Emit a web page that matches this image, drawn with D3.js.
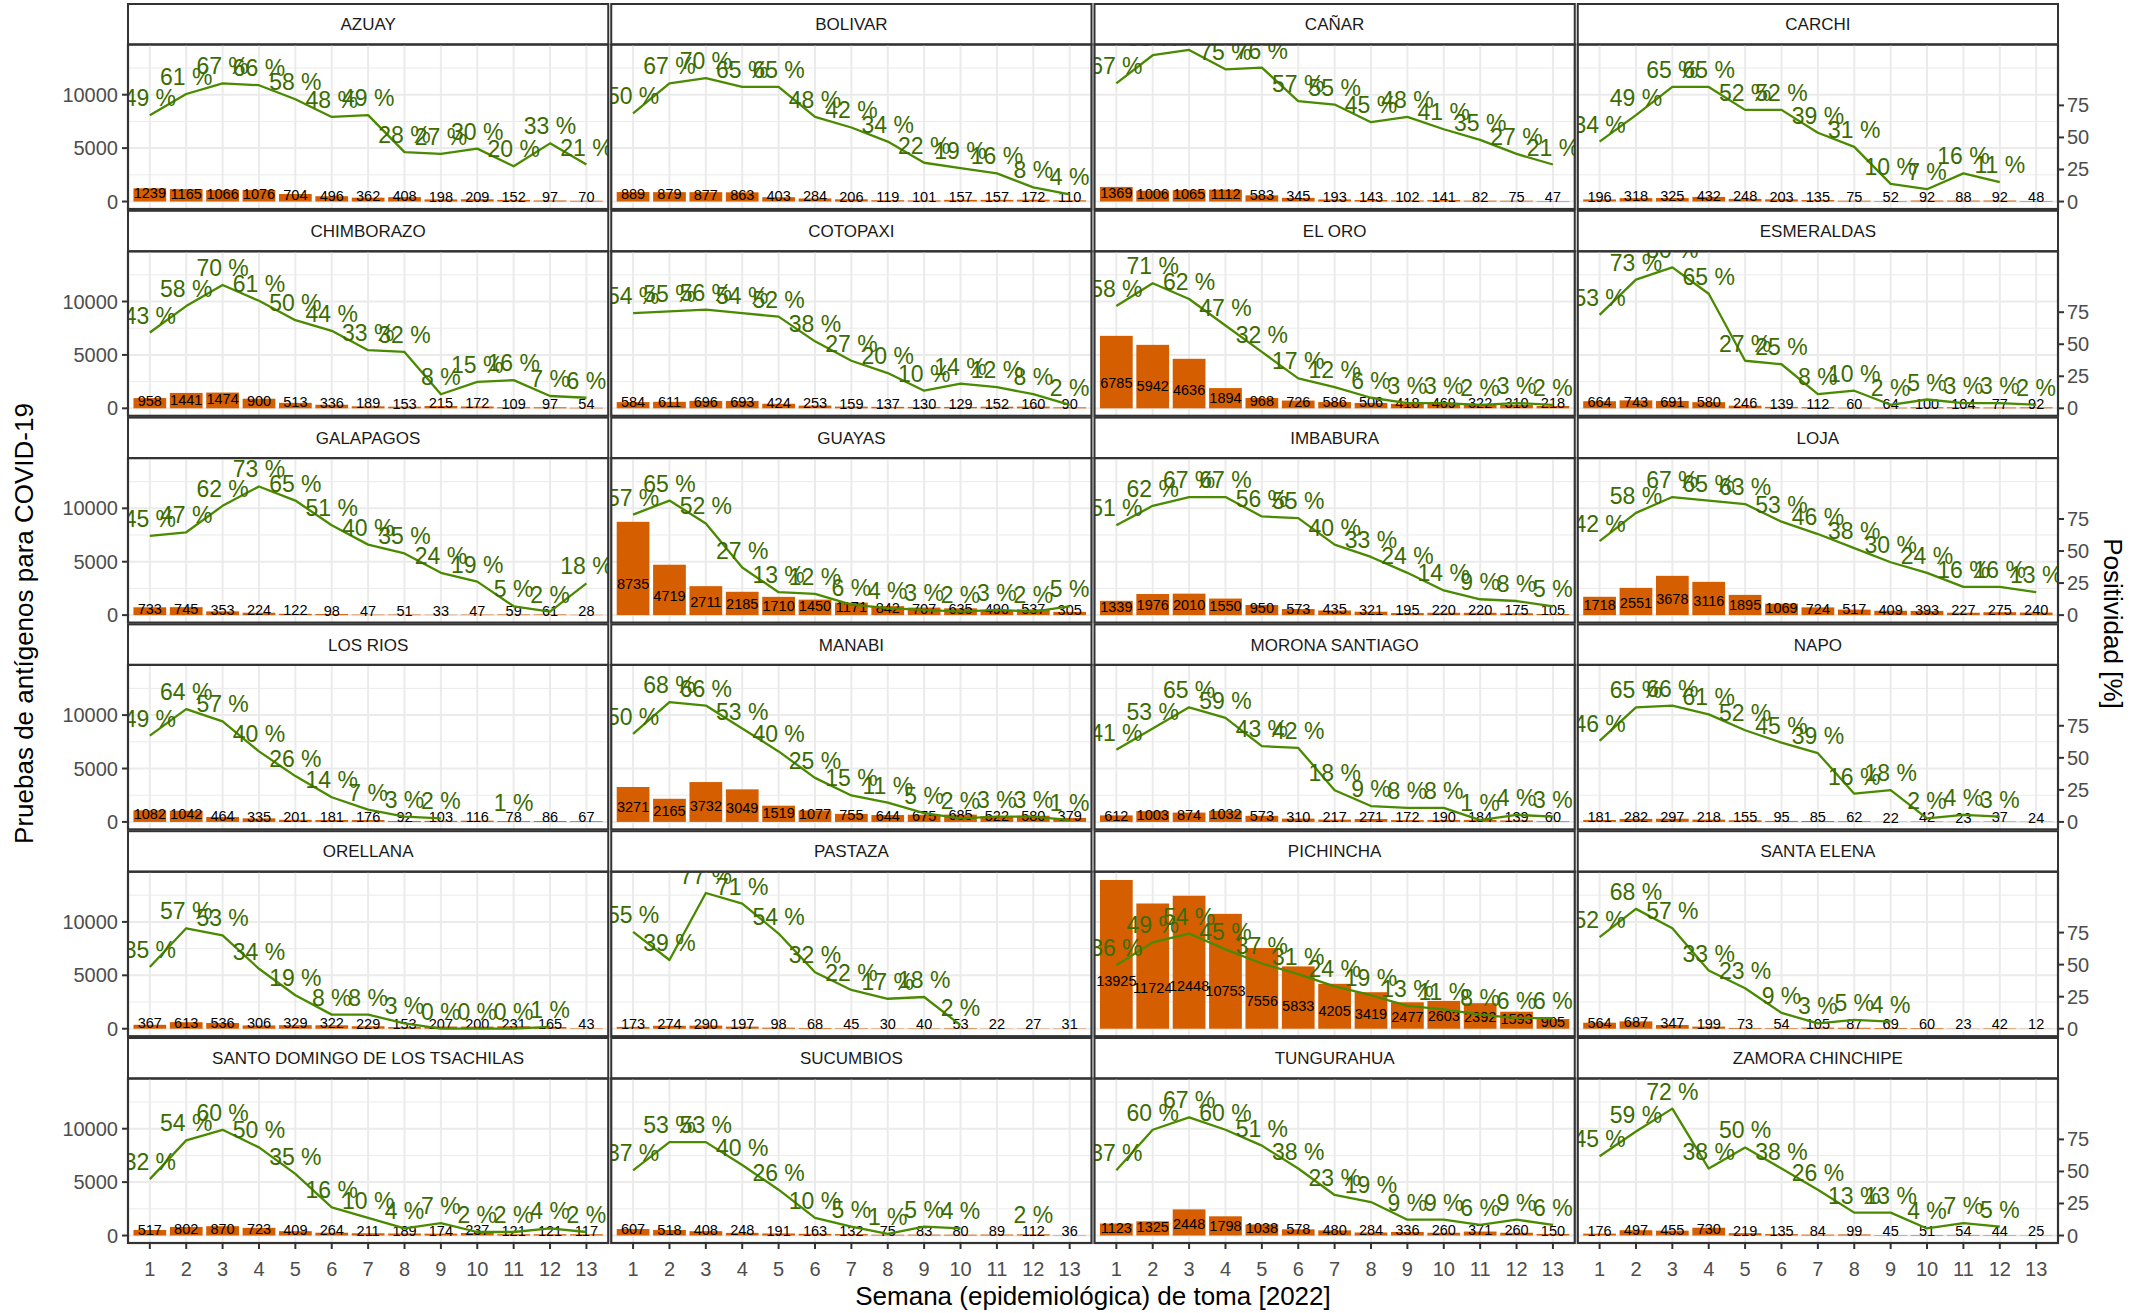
<!DOCTYPE html>
<html>
<head>
<meta charset="utf-8">
<script src="https://cdnjs.cloudflare.com/ajax/libs/d3/7.8.5/d3.min.js"></script>
<style>
  body { margin: 0; background: #fff; }
  svg text { font-family: "Liberation Sans", Arial, Helvetica, sans-serif; }
</style>
</head>
<body>
<svg id="chart"></svg>
<script>
// provinces in facet order (4 columns x 6 rows)
var provincias = ['AZUAY', 'BOLIVAR', 'CAÑAR', 'CARCHI',
    'CHIMBORAZO', 'COTOPAXI', 'EL ORO', 'ESMERALDAS',
    'GALAPAGOS', 'GUAYAS', 'IMBABURA', 'LOJA',
    'LOS RIOS', 'MANABI', 'MORONA SANTIAGO', 'NAPO',
    'ORELLANA', 'PASTAZA', 'PICHINCHA', 'SANTA ELENA',
    'SANTO DOMINGO DE LOS TSACHILAS', 'SUCUMBIOS', 'TUNGURAHUA', 'ZAMORA CHINCHIPE'];

var semanas = [1, 2, 3, 4, 5, 6, 7, 8, 9, 10, 11, 12, 13];

// antigen tests per week
var pruebas = [
    [1239, 1165, 1066, 1076, 704, 496, 362, 408, 198, 209, 152, 97, 70],
    [889, 879, 877, 863, 403, 284, 206, 119, 101, 157, 157, 172, 110],
    [1369, 1006, 1065, 1112, 583, 345, 193, 143, 102, 141, 82, 75, 47],
    [196, 318, 325, 432, 248, 203, 135, 75, 52, 92, 88, 92, 48],
    [958, 1441, 1474, 900, 513, 336, 189, 153, 215, 172, 109, 97, 54],
    [584, 611, 696, 693, 424, 253, 159, 137, 130, 129, 152, 160, 90],
    [6785, 5942, 4636, 1894, 968, 726, 586, 506, 418, 469, 322, 310, 218],
    [664, 743, 691, 580, 246, 139, 112, 60, 64, 100, 104, 77, 92],
    [733, 745, 353, 224, 122, 98, 47, 51, 33, 47, 59, 61, 28],
    [8735, 4719, 2711, 2185, 1710, 1450, 1171, 842, 707, 635, 490, 537, 305],
    [1339, 1976, 2010, 1550, 950, 573, 435, 321, 195, 220, 220, 175, 105],
    [1718, 2551, 3678, 3116, 1895, 1069, 724, 517, 409, 393, 227, 275, 240],
    [1082, 1042, 464, 335, 201, 181, 176, 92, 103, 116, 78, 86, 67],
    [3271, 2165, 3732, 3049, 1519, 1077, 755, 644, 675, 685, 522, 580, 379],
    [612, 1003, 874, 1032, 573, 310, 217, 271, 172, 190, 184, 139, 60],
    [181, 282, 297, 218, 155, 95, 85, 62, 22, 42, 23, 37, 24],
    [367, 613, 536, 306, 329, 322, 229, 153, 207, 200, 231, 165, 43],
    [173, 274, 290, 197, 98, 68, 45, 30, 40, 53, 22, 27, 31],
    [13925, 11724, 12448, 10753, 7556, 5833, 4205, 3419, 2477, 2603, 2392, 1593, 905],
    [564, 687, 347, 199, 73, 54, 105, 87, 69, 60, 23, 42, 12],
    [517, 802, 870, 723, 409, 264, 211, 189, 174, 237, 121, 121, 117],
    [607, 518, 408, 248, 191, 163, 132, 75, 83, 80, 89, 112, 36],
    [1123, 1325, 2448, 1798, 1038, 578, 480, 284, 336, 260, 371, 260, 150],
    [176, 497, 455, 730, 219, 135, 84, 99, 45, 51, 54, 44, 25]
];

// positivity in %, null = no value
var positividad = [
    [49, 61, 67, 66, 58, 48, 49, 28, 27, 30, 20, 33, 21],
    [50, 67, 70, 65, 65, 48, 42, 34, 22, 19, 16, 8, 4],
    [67, 83, 86, 75, 76, 57, 55, 45, 48, 41, 35, 27, 21],
    [34, 49, 65, 65, 52, 52, 39, 31, 10, 7, 16, 11, null],
    [43, 58, 70, 61, 50, 44, 33, 32, 8, 15, 16, 7, 6],
    [54, 55, 56, 54, 52, 38, 27, 20, 10, 14, 12, 8, 2],
    [58, 71, 62, 47, 32, 17, 12, 6, 3, 3, 2, 3, 2],
    [53, 73, 80, 65, 27, 25, 8, 10, 2, 5, 3, 3, 2],
    [45, 47, 62, 73, 65, 51, 40, 35, 24, 19, 5, 2, 18],
    [57, 65, 52, 27, 13, 12, 6, 4, 3, 2, 3, 2, 5],
    [51, 62, 67, 67, 56, 55, 40, 33, 24, 14, 9, 8, 5],
    [42, 58, 67, 65, 63, 53, 46, 38, 30, 24, 16, 16, 13],
    [49, 64, 57, 40, 26, 14, 7, 3, 2, null, 1, null, null],
    [50, 68, 66, 53, 40, 25, 15, 11, 5, 2, 3, 3, 1],
    [41, 53, 65, 59, 43, 42, 18, 9, 8, 8, 1, 4, 3],
    [46, 65, 66, 61, 52, 45, 39, 16, 18, 2, 4, 3, null],
    [35, 57, 53, 34, 19, 8, 8, 3, 0, 0, 0, 1, null],
    [55, 39, 77, 71, 54, 32, 22, 17, 18, 2, null, null, null],
    [36, 49, 54, 45, 37, 31, 24, 19, 13, 11, 8, 6, 6],
    [52, 68, 57, 33, 23, 9, 3, 5, 4, null, null, null, null],
    [32, 54, 60, 50, 35, 16, 10, 4, 7, 2, 2, 4, 2],
    [37, 53, 53, 40, 26, 10, 5, 1, 5, 4, null, 2, null],
    [37, 60, 67, 60, 51, 38, 23, 19, 9, 9, 6, 9, 6],
    [45, 59, 72, 38, 50, 38, 26, 13, 13, 4, 7, 5, null]
];

var ticksPruebas = [0, 5000, 10000];
var minorPruebas = [2500, 7500, 12500];
var ticksPositividad = [0, 25, 50, 75];

(function(d3) {
    var width = 2144,
        height = 1313,
        marginLeft = 128,
        marginRight = 2058,
        marginTop = 4,
        nCol = 4,
        nRow = 6,
        colGap = 3,
        rowGap = 1.8,
        stripH = 40.5,
        panelH = 164.5,
        panelW = (marginRight - marginLeft - colGap * (nCol - 1)) / nCol,
        lineScale = 165,   // the line is drawn with this factor...
        axisScale = 120;   // ...the secondary axis uses this one

    var barColor = '#D55E00',
        lineColor = '#4A8A00',
        pctColor = '#3B6C00',
        gridColor = '#EBEBEB',
        borderColor = '#333333',
        tickText = '#4D4D4D';

    var svg = d3.select('#chart')
        .attr('width', width)
        .attr('height', height);

    svg.append('rect')
        .attr('width', width)
        .attr('height', height)
        .attr('fill', '#fff');

    var x = d3.scaleBand()
        .domain(semanas)
        .range([0, panelW])
        .paddingInner(0.1)
        .paddingOuter(0.15);

    var y = d3.scaleLinear()
        .domain([-700, 14700])
        .range([panelH, 0]);

    function cx(w) { return x(w) + x.bandwidth() / 2; }

    svg.append('defs')
        .append('clipPath')
        .attr('id', 'panel-clip')
        .append('rect')
        .attr('width', panelW)
        .attr('height', panelH);

    provincias.forEach(function(name, i) {
        var col = i % nCol,
            row = Math.floor(i / nCol),
            px = marginLeft + col * (panelW + colGap),
            py = marginTop + row * (stripH + panelH + rowGap) + stripH;

        var data = semanas.map(function(w, j) {
            return { semana: w, n: pruebas[i][j], p: positividad[i][j] };
        });

        var g = svg.append('g')
            .attr('transform', 'translate(' + px + ',' + py + ')');

        // strip
        g.append('rect')
            .attr('x', 0)
            .attr('y', -stripH)
            .attr('width', panelW)
            .attr('height', stripH)
            .attr('fill', '#fff')
            .attr('stroke', borderColor)
            .attr('stroke-width', 2);

        g.append('text')
            .attr('x', panelW / 2)
            .attr('y', -stripH / 2 + 6)
            .attr('text-anchor', 'middle')
            .attr('font-size', 17)
            .attr('fill', '#1A1A1A')
            .text(name);

        // grid
        g.selectAll('.minor')
            .data(minorPruebas)
            .enter().append('line')
            .attr('x1', 0).attr('x2', panelW)
            .attr('y1', y).attr('y2', y)
            .attr('stroke', gridColor)
            .attr('stroke-width', 1);

        g.selectAll('.major')
            .data(ticksPruebas)
            .enter().append('line')
            .attr('x1', 0).attr('x2', panelW)
            .attr('y1', y).attr('y2', y)
            .attr('stroke', gridColor)
            .attr('stroke-width', 2);

        g.selectAll('.vgrid')
            .data(semanas)
            .enter().append('line')
            .attr('x1', cx).attr('x2', cx)
            .attr('y1', 0).attr('y2', panelH)
            .attr('stroke', gridColor)
            .attr('stroke-width', 2);

        var inner = g.append('g')
            .attr('clip-path', 'url(#panel-clip)');

        inner.selectAll('.bar')
            .data(data)
            .enter().append('rect')
            .attr('x', function(d) { return x(d.semana); })
            .attr('width', x.bandwidth())
            .attr('y', function(d) { return y(d.n); })
            .attr('height', function(d) { return y(0) - y(d.n); })
            .attr('fill', barColor);

        inner.selectAll('.nlabel')
            .data(data)
            .enter().append('text')
            .attr('x', function(d) { return cx(d.semana); })
            .attr('y', function(d) { return y(d.n * 0.29) + 0.7; })
            .attr('text-anchor', 'middle')
            .attr('font-size', 14.5)
            .attr('fill', '#000')
            .text(function(d) { return d.n; });

        var line = d3.line()
            .defined(function(d) { return d.p != null; })
            .x(function(d) { return cx(d.semana); })
            .y(function(d) { return y(d.p * lineScale); });

        inner.append('path')
            .datum(data)
            .attr('d', line)
            .attr('fill', 'none')
            .attr('stroke', lineColor)
            .attr('stroke-width', 2.3)
            .attr('stroke-linejoin', 'round');

        inner.selectAll('.plabel')
            .data(data.filter(function(d) { return d.p != null; }))
            .enter().append('text')
            .attr('x', function(d) { return cx(d.semana); })
            .attr('y', function(d) { return y(d.p * lineScale) - 9; })
            .attr('text-anchor', 'middle')
            .attr('font-size', 23)
            .attr('fill', pctColor)
            .text(function(d) { return d.p + ' %'; });

        // border
        g.append('rect')
            .attr('width', panelW)
            .attr('height', panelH)
            .attr('fill', 'none')
            .attr('stroke', borderColor)
            .attr('stroke-width', 2.2);

        // left axis
        if (col === 0) {
            var la = g.append('g');
            la.selectAll('line')
                .data(ticksPruebas)
                .enter().append('line')
                .attr('x1', -6).attr('x2', 0)
                .attr('y1', y).attr('y2', y)
                .attr('stroke', borderColor)
                .attr('stroke-width', 2);
            la.selectAll('text')
                .data(ticksPruebas)
                .enter().append('text')
                .attr('x', -10)
                .attr('y', function(d) { return y(d) + 7; })
                .attr('text-anchor', 'end')
                .attr('font-size', 20)
                .attr('fill', tickText)
                .text(function(d) { return d; });
        }

        // right axis (secondary)
        if (col === nCol - 1) {
            var ra = g.append('g');
            ra.selectAll('line')
                .data(ticksPositividad)
                .enter().append('line')
                .attr('x1', panelW).attr('x2', panelW + 6)
                .attr('y1', function(d) { return y(d * axisScale); })
                .attr('y2', function(d) { return y(d * axisScale); })
                .attr('stroke', borderColor)
                .attr('stroke-width', 2);
            ra.selectAll('text')
                .data(ticksPositividad)
                .enter().append('text')
                .attr('x', panelW + 9)
                .attr('y', function(d) { return y(d * axisScale) + 7; })
                .attr('text-anchor', 'start')
                .attr('font-size', 20)
                .attr('fill', tickText)
                .text(function(d) { return d; });
        }

        // bottom axis
        if (row === nRow - 1) {
            var ba = g.append('g');
            ba.selectAll('line')
                .data(semanas)
                .enter().append('line')
                .attr('x1', cx).attr('x2', cx)
                .attr('y1', panelH).attr('y2', panelH + 6)
                .attr('stroke', borderColor)
                .attr('stroke-width', 2);
            ba.selectAll('text')
                .data(semanas)
                .enter().append('text')
                .attr('x', cx)
                .attr('y', panelH + 33)
                .attr('text-anchor', 'middle')
                .attr('font-size', 20)
                .attr('fill', tickText)
                .text(function(d) { return d; });
        }
    });

    var midY = (2 * marginTop + nRow * (stripH + panelH) + (nRow - 1) * rowGap) / 2;

    svg.append('text')
        .attr('transform', 'translate(33,' + midY + ') rotate(-90)')
        .attr('text-anchor', 'middle')
        .attr('font-size', 26)
        .attr('fill', '#000')
        .text('Pruebas de antígenos para COVID-19');

    svg.append('text')
        .attr('transform', 'translate(2104,' + midY + ') rotate(90)')
        .attr('text-anchor', 'middle')
        .attr('font-size', 26)
        .attr('fill', '#000')
        .text('Positividad [%]');

    svg.append('text')
        .attr('x', (marginLeft + marginRight) / 2)
        .attr('y', 1305)
        .attr('text-anchor', 'middle')
        .attr('font-size', 26)
        .attr('fill', '#000')
        .text('Semana (epidemiológica) de toma [2022]');
})(d3);
</script>
</body>
</html>
